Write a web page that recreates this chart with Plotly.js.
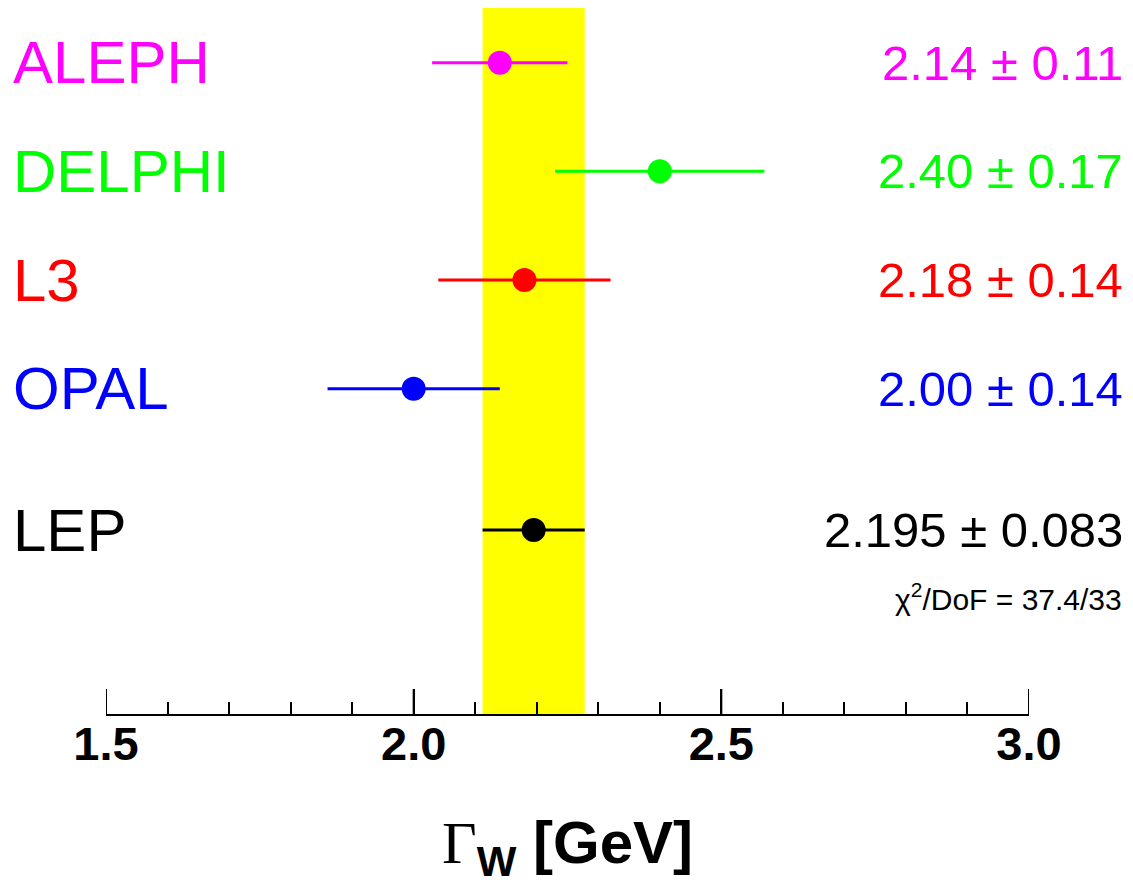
<!DOCTYPE html>
<html>
<head>
<meta charset="utf-8">
<script src="https://cdn.plot.ly/plotly-3.0.1.min.js"></script>
<style>html,body{margin:0;padding:0;background:#fff;}#chart{width:1133px;height:884px;}</style>
</head>
<body>
<div id="chart"></div>
<script>
// ---- data ----
const experiments = ["ALEPH", "DELPHI", "L3", "OPAL", "LEP"];
const widths = [2.14, 2.40, 2.18, 2.00, 2.195];
const errors = [0.11, 0.17, 0.14, 0.14, 0.083];
const valueLabels = ["2.14 \u00b1 0.11", "2.40 \u00b1 0.17", "2.18 \u00b1 0.14", "2.00 \u00b1 0.14", "2.195 \u00b1 0.083"];
const colors = ["#ff00ff", "#00ff00", "#ff0000", "#0000ff", "#000000"];
const chi2Label = "\u03c7<sup>2</sup>/DoF = 37.4/33";
const tickVals = [1.5, 2.0, 2.5, 3.0];
const tickText = ["1.5", "2.0", "2.5", "3.0"];
const minorStep = 0.1;

// ---- layout positions (row placement) ----
const rowY = [5, 4, 3, 2, 0.7];
const lepIndex = 4;

const L = 106, R = 103.5, T = 8, B = 170;
const plotW = 1133 - L - R;
const plotH = 884 - T - B;
const font = "Liberation Sans, Arial, Helvetica, sans-serif";

const traces = experiments.map((name, i) => ({
  type: "scatter",
  mode: "markers",
  x: [widths[i]],
  y: [rowY[i]],
  marker: {size: 24, color: colors[i]},
  error_x: {type: "data", array: [errors[i]], visible: true, color: colors[i], thickness: 3, width: 0},
  cliponaxis: false,
  showlegend: false,
  hoverinfo: "x"
}));

const annotations = [];
experiments.forEach((name, i) => {
  annotations.push({
    xref: "paper", yref: "y", x: (11 - L) / plotW, y: rowY[i],
    xanchor: "left", yanchor: "middle",
    text: name, showarrow: false,
    font: {family: font, size: 60, color: colors[i]}
  });
  annotations.push({
    xref: "paper", yref: "y", x: (1126 - L) / plotW, y: rowY[i],
    xanchor: "right", yanchor: "middle",
    text: valueLabels[i], showarrow: false,
    font: {family: font, size: 49, color: colors[i]}
  });
});
annotations.push({
  xref: "paper", yref: "y", x: (1125 - L) / plotW, y: 0.08,
  xanchor: "right", yanchor: "middle",
  text: chi2Label, showarrow: false,
  font: {family: font, size: 30, color: "#000"}
});
annotations.push({
  xref: "paper", yref: "paper", x: 0.5, y: -(847 - 714) / plotH,
  xanchor: "center", yanchor: "middle",
  text: "<span style=\"font-family:'Liberation Serif','Times New Roman',serif;font-weight:normal\">\u0393</span><sub>W</sub> [GeV]",
  showarrow: false,
  font: {family: font, size: 60, color: "#000", weight: "bold"}
});

// yellow LEP band + explicit tall major ticks (from tick values)
const shapes = [{
  type: "rect", xref: "x", yref: "paper", layer: "below",
  x0: widths[lepIndex] - errors[lepIndex], x1: widths[lepIndex] + errors[lepIndex],
  y0: 0, y1: 1, fillcolor: "#ffff00", line: {width: 0}
}];
tickVals.forEach(v => shapes.push({
  type: "line", xref: "x", yref: "paper", layer: "above",
  x0: v, x1: v, y0: 0, y1: 25 / plotH,
  line: {color: "#000", width: 2}
}));

const layout = {
  width: 1133, height: 884,
  margin: {l: L, r: R, t: T, b: B, pad: 0},
  paper_bgcolor: "#fff", plot_bgcolor: "#fff",
  showlegend: false,
  xaxis: {
    range: [1.5, 3.0], showgrid: false, zeroline: false,
    showline: true, linecolor: "#000", linewidth: 2,
    tickmode: "array", tickvals: tickVals, ticktext: tickText,
    ticks: "inside", ticklen: 25, tickwidth: 2, tickcolor: "#000",
    ticklabelstandoff: -12,
    tickfont: {family: font, size: 47, color: "#000", weight: "bold"},
    minor: {ticks: "inside", ticklen: 12, tickwidth: 2, tickcolor: "#000", dtick: minorStep, tick0: tickVals[0], showgrid: false},
    fixedrange: true
  },
  yaxis: {
    range: [-0.993, 5.503], visible: false, showgrid: false, zeroline: false, fixedrange: true
  },
  shapes: shapes,
  annotations: annotations
};

Plotly.newPlot("chart", traces, layout, {displayModeBar: false, staticPlot: true});
</script>
</body>
</html>
